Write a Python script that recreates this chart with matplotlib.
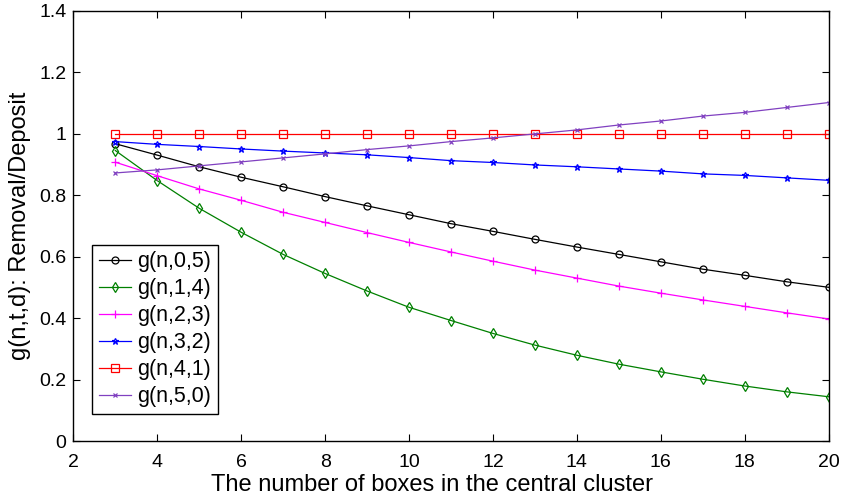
import matplotlib
matplotlib.use("Agg")
import matplotlib.pyplot as plt

plt.rcParams["font.family"] = ["Liberation Sans", "DejaVu Sans"]

n_boxes = list(range(3, 21))

g_0_5 = [0.968, 0.931, 0.893, 0.859, 0.828, 0.796, 0.766, 0.737, 0.708, 0.683,
         0.657, 0.632, 0.608, 0.584, 0.560, 0.540, 0.519, 0.501]
g_1_4 = [0.946, 0.848, 0.758, 0.680, 0.608, 0.546, 0.489, 0.436, 0.393, 0.351,
         0.313, 0.280, 0.251, 0.226, 0.202, 0.180, 0.161, 0.145]
g_2_3 = [0.908, 0.864, 0.821, 0.784, 0.745, 0.712, 0.679, 0.647, 0.616, 0.586,
         0.557, 0.531, 0.505, 0.482, 0.460, 0.439, 0.418, 0.398]
g_3_2 = [0.975, 0.966, 0.959, 0.951, 0.944, 0.938, 0.932, 0.923, 0.913, 0.907,
         0.899, 0.893, 0.886, 0.879, 0.870, 0.865, 0.857, 0.849]
g_4_1 = [1.0] * 18
g_5_0 = [0.873, 0.883, 0.896, 0.909, 0.922, 0.935, 0.949, 0.961, 0.975, 0.987,
         1.000, 1.013, 1.029, 1.042, 1.058, 1.070, 1.086, 1.102]

labels = ["g(n,0,5)", "g(n,1,4)", "g(n,2,3)", "g(n,3,2)", "g(n,4,1)", "g(n,5,0)"]

series = [
    (g_0_5, "k", "o", 5.0),
    (g_1_4, "#008000", "d", 5.0),
    (g_2_3, "#ff00ff", "+", 6.0),
    (g_3_2, "#0000ff", "*", 5.0),
    (g_4_1, "#ff0000", "s", 5.5),
    (g_5_0, "#8040c0", "x", 3.0),
]

fig = plt.figure(figsize=(8.43, 4.97), dpi=100)
ax = fig.add_axes([0.087, 0.112, 0.896, 0.866])

for (vals, color, marker, ms), lab in zip(series, labels):
    ax.plot(n_boxes, vals, color=color, marker=marker, markersize=ms,
            markerfacecolor="none", markeredgecolor=color, markeredgewidth=0.9,
            linewidth=0.9, label=lab)

ax.set_xlim(2, 20)
ax.set_ylim(0, 1.4)
ax.set_xticks(range(2, 21, 2))
ax.set_yticks([0, 0.2, 0.4, 0.6, 0.8, 1.0, 1.2, 1.4])
ax.set_yticklabels(["0", "0.2", "0.4", "0.6", "0.8", "1", "1.2", "1.4"])
ax.tick_params(direction="in", top=True, right=True, labelsize=14, length=5, width=0.8)
ax.tick_params(axis="x", pad=9)
ax.tick_params(axis="y", pad=5)
for sp in ax.spines.values():
    sp.set_linewidth(1.0)

ax.set_xlabel("The number of boxes in the central cluster", fontsize=17)
ax.xaxis.set_label_coords(0.475, -0.076)
ax.xaxis.label.set_va("top")
ax.set_ylabel("g(n,t,d): Removal/Deposit", fontsize=17, labelpad=6)

leg = ax.legend(loc="lower left", bbox_to_anchor=(0.025, 0.064), fontsize=15.5,
                fancybox=False, framealpha=1, edgecolor="k", handlelength=1.5,
                handletextpad=0.3, borderpad=0.3, labelspacing=0.28,
                borderaxespad=0)
leg.get_frame().set_linewidth(1.0)

fig.savefig("out.png", dpi=100)
